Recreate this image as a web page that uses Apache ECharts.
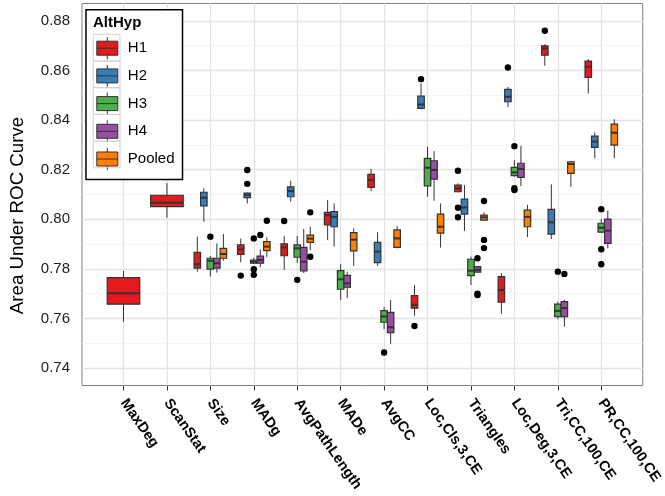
<!DOCTYPE html>
<html><head><meta charset="utf-8">
<script src="https://cdn.jsdelivr.net/npm/echarts@6/dist/echarts.min.js"></script>
<style>html,body{margin:0;padding:0;background:#fff}#c{width:665px;height:496px}</style>
</head><body><div id="c"></div>
<script>
// ---------- data ----------
const categories = ['MaxDeg','ScanStat','Size','MADg','AvgPathLength','MADe','AvgCC','Loc,Cls,3,CE','Triangles','Loc,Deg,3,CE','Tri,CC,100,CE','PR,CC,100,CE'];
const groups = ['H1','H2','H3','H4','Pooled'];
const colors = ['#E41A1C','#377EB8','#4DAF4A','#984EA3','#FF7F00'];
const yTicks = [0.74,0.76,0.78,0.80,0.82,0.84,0.86,0.88];
const yMinorTicks = [0.75,0.77,0.79,0.81,0.83,0.85,0.87];

// [lower whisker, Q1, median, Q3, upper whisker] per category (null = absent)
const statsH1 = [
  [0.7587,0.7658,0.7702,0.7765,0.7792],
  [0.8006,0.8051,0.8067,0.8097,0.8146],
  [0.7789,0.7803,0.7819,0.7867,0.7930],
  [0.7827,0.7859,0.7879,0.7897,0.7922],
  [0.7796,0.7853,0.7887,0.7901,0.7933],
  [0.7917,0.7977,0.8017,0.8028,0.8078],
  [0.8114,0.8129,0.8158,0.8181,0.8203],
  [0.7612,0.7642,0.7655,0.7692,0.7735],
  [0.8109,0.8111,0.8125,0.8138,0.8145],
  [0.7619,0.7666,0.7715,0.7769,0.7783],
  [0.8619,0.8662,0.8689,0.8699,0.8706],
  [0.8507,0.8572,0.8615,0.8638,0.8646]
];
const statsH2 = [
  null, null,
  [0.7990,0.8054,0.8087,0.8109,0.8125],
  [0.8064,0.8087,0.8099,0.8106,0.8108],
  [0.8071,0.8091,0.8114,0.8131,0.8155],
  [0.7890,0.7970,0.8010,0.8031,0.8064],
  [0.7812,0.7825,0.7870,0.7907,0.7948],
  [0.8443,0.8447,0.8463,0.8497,0.8548],
  [0.7953,0.8021,0.8048,0.8081,0.8138],
  [0.8453,0.8474,0.8494,0.8524,0.8534],
  [0.7921,0.7940,0.7988,0.8040,0.8141],
  [0.8246,0.8290,0.8313,0.8335,0.8350]
];
const statsH3 = [
  null, null,
  [0.7769,0.7799,0.7833,0.7843,0.7852],
  [0.7820,0.7823,0.7829,0.7836,0.7845],
  [0.7825,0.7847,0.7883,0.7897,0.7933],
  [0.7675,0.7718,0.7758,0.7793,0.7819],
  [0.7557,0.7585,0.7608,0.7632,0.7646],
  [0.8091,0.8135,0.8208,0.8246,0.8292],
  [0.7735,0.7773,0.7793,0.7839,0.7849],
  [0.8172,0.8176,0.8189,0.8209,0.8239],
  [0.7597,0.7608,0.7631,0.7658,0.7668],
  [0.7945,0.7948,0.7966,0.7984,0.8001]
];
const statsH4 = [
  null, null,
  [0.7785,0.7803,0.7823,0.7843,0.7903],
  [0.7807,0.7823,0.7836,0.7852,0.7879],
  [0.7783,0.7792,0.7829,0.7887,0.7961],
  [0.7682,0.7726,0.7742,0.7774,0.7789],
  [0.7498,0.7543,0.7565,0.7625,0.7675],
  [0.8075,0.8162,0.8199,0.8236,0.8275],
  [0.7785,0.7787,0.7796,0.7809,0.7812],
  [0.8134,0.8169,0.8203,0.8226,0.8296],
  [0.7567,0.7608,0.7642,0.7668,0.7675],
  [0.7883,0.7903,0.7954,0.8001,0.8035]
];
const statsPooled = [
  null, null,
  [0.7833,0.7843,0.7860,0.7883,0.7941],
  [0.7847,0.7874,0.7890,0.7910,0.7928],
  [0.7876,0.7907,0.7922,0.7936,0.7970],
  [0.7812,0.7873,0.7918,0.7946,0.7964],
  [0.7883,0.7887,0.7923,0.7957,0.7973],
  [0.7886,0.7944,0.7970,0.8021,0.8064],
  [0.7995,0.7997,0.8008,0.8017,0.8028],
  [0.7928,0.7970,0.8010,0.8037,0.8058],
  [0.8131,0.8185,0.8223,0.8232,0.8235],
  [0.8246,0.8299,0.8349,0.8384,0.8403]
];
// outliers: [category index, value]
const outliersH1 = [[3,0.7773],[4,0.7993],[7,0.7570],[8,0.8196],[8,0.8047],[8,0.8008],[10,0.8760]];
const outliersH2 = [[3,0.8199],[3,0.8143],[7,0.8565],[9,0.8612]];
const outliersH3 = [[2,0.7930],[3,0.7923],[3,0.7799],[3,0.7776],[4,0.7756],[6,0.7463],[9,0.8295],[9,0.8125],[9,0.8118],[10,0.7789],[11,0.8041],[11,0.7879],[11,0.7819]];
const outliersH4 = [[3,0.7937],[8,0.7843],[8,0.7700],[8,0.7695],[10,0.7780]];
const outliersPooled = [[3,0.7994],[4,0.8028],[4,0.7849],[8,0.8074],[8,0.7917],[8,0.7884]];

// ---------- build ----------
const allStats = [statsH1, statsH2, statsH3, statsH4, statsPooled];
const allOutliers = [outliersH1, outliersH2, outliersH3, outliersH4, outliersPooled];
const catIdx = categories.map((c,i)=>i);
const present = catIdx.map(i => allStats.map((s,g)=> s[i] ? g : -1).filter(g=>g>=0));

const FONT = '"Liberation Sans", Arial, Helvetica, sans-serif';
const DODGE = 0.75;

function placeX(cat, n, rank){
  const w = n === 1 ? DODGE : DODGE / n;
  return [cat + (n === 1 ? 0 : (rank - (n - 1) / 2) * w), w];
}

function boxRender(params, api){
  const cat = api.value(0), n = api.value(6), rank = api.value(7);
  const [xc, w] = placeX(cat, n, rank);
  const lo = api.coord([xc, api.value(1)]);
  const q1 = api.coord([xc, api.value(2)]);
  const md = api.coord([xc, api.value(3)]);
  const q3 = api.coord([xc, api.value(4)]);
  const hi = api.coord([xc, api.value(5)]);
  const half = api.size([w, 0])[0] / 2;
  const color = api.visual('color');
  const ls = {stroke:'#333333', lineWidth:1};
  return {type:'group', children:[
    {type:'line', shape:{x1:lo[0], y1:hi[1], x2:lo[0], y2:q3[1]}, style:ls},
    {type:'line', shape:{x1:lo[0], y1:q1[1], x2:lo[0], y2:lo[1]}, style:ls},
    {type:'rect', shape:{x:lo[0]-half, y:q3[1], width:2*half, height:q1[1]-q3[1]}, style:{fill:color, stroke:'#333333', lineWidth:1.2}},
    {type:'line', shape:{x1:lo[0]-half, y1:md[1], x2:lo[0]+half, y2:md[1]}, style:{stroke:'#333333', lineWidth:2}}
  ]};
}
function outlierRender(params, api){
  const [xc] = placeX(api.value(0), api.value(2), api.value(3));
  const p = api.coord([xc, api.value(1)]);
  return {type:'circle', shape:{cx:p[0], cy:p[1], r:3.2}, style:{fill:'#000'}};
}

const series = groups.map((name, g) => ({
  type:'custom', name, renderItem: boxRender, z:3,
  itemStyle:{color: colors[g]},
  encode:{x:0, y:[1,2,3,4,5]},
  data: catIdx.filter(i => allStats[g][i]).map(i => [i, ...allStats[g][i], present[i].length, present[i].indexOf(g)])
}));

const outData = [];
allOutliers.forEach((arr, g) => arr.forEach(([i, v]) => outData.push([i, v, present[i].length, present[i].indexOf(g)])));

const gridMajor = {color:'#E3E3E3', width:1.3};
const gridMinor = {color:'#F2F2F2', width:0.8};
series.push({
  type:'custom', name:'outliers', renderItem: outlierRender, z:4,
  encode:{x:0, y:1}, data: outData,
  markLine:{
    silent:true, symbol:'none', label:{show:false}, z:1, animation:false,
    lineStyle:{type:'solid'},
    emphasis:{disabled:true},
    data: [
      ...yMinorTicks.map(v => ({yAxis:v, lineStyle:{...gridMinor, type:'solid'}})),
      ...yTicks.map(v => ({yAxis:v, lineStyle:{...gridMajor, type:'solid'}})),
      ...catIdx.map(v => ({xAxis:v, lineStyle:{...gridMajor, type:'solid'}}))
    ]
  }
});

const iconPath = 'path://M0,4L21,4L21,18L0,18Z M10.5,0L10.5,4 M10.5,18L10.5,22 M0,11L21,11';

const chart = echarts.init(document.getElementById('c'), null, {renderer:'canvas'});
chart.setOption({
  animation:false,
  textStyle:{fontFamily:FONT},
  grid:{left:81, right:22, top:3.5, bottom:110.5, show:true, borderColor:'#7F7F7F', borderWidth:1, backgroundColor:'#fff'},
  title:{text:'AltHyp', left:93, top:15, padding:0, textStyle:{fontSize:15, fontWeight:'bold', color:'#000', fontFamily:FONT}},
  legend:{
    orient:'vertical', left:86, top:9.7, padding:[27,8,9,10.3], itemGap:4.7,
    itemWidth:21, itemHeight:22, borderColor:'#000', borderWidth:1.5, backgroundColor:'#fff',
    selectedMode:false,
    textStyle:{fontSize:15, color:'#000', fontFamily:FONT, padding:[0,0,0,5]},
    data: groups.map((name,i)=>({name, icon:iconPath, itemStyle:{color:colors[i], borderColor:'#333333', borderWidth:1}}))
  },
  graphic: groups.map((g,i)=>({type:'rect', z:100, silent:true,
    shape:{x:93.3, y:34.3 + i*26.7, width:26.7, height:26.7},
    style:{fill:'none', stroke:'#D0D0D0', lineWidth:1}})),
  xAxis:{
    type:'value', min:-0.955, max:11.955,
    axisLine:{show:false},
    axisTick:{show:true, customValues:catIdx, length:5, lineStyle:{color:'#333'}},
    axisLabel:{customValues:catIdx, formatter:v=>categories[v], rotate:-55, fontWeight:'bold', fontSize:14.5, color:'#000', margin:15, fontFamily:FONT},
    splitLine:{show:false}
  },
  yAxis:{
    type:'value', min:0.733, max:0.887,
    name:'Area Under ROC Curve', nameLocation:'middle', nameGap:55,
    nameTextStyle:{fontSize:18.7, color:'#000', fontFamily:FONT, padding:[0,42,0,0]},
    axisLine:{show:false},
    axisTick:{show:true, customValues:yTicks, length:6, lineStyle:{color:'#333'}},
    axisLabel:{customValues:yTicks, formatter:v=>v.toFixed(2), fontSize:15, color:'#222', margin:12, fontFamily:FONT},
    splitLine:{show:false}
  },
  series
});
</script></body></html>
